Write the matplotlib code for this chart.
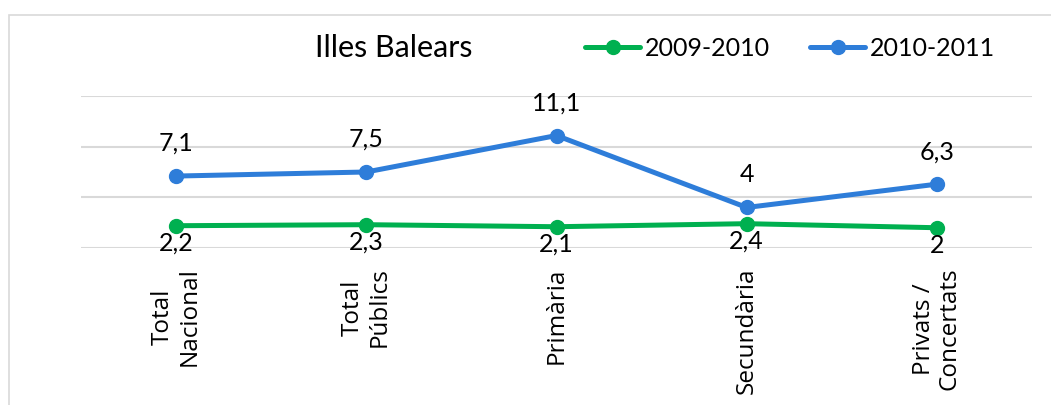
import matplotlib
matplotlib.use("Agg")
import matplotlib.pyplot as plt
from matplotlib.patches import Rectangle

categories = ["Total\nNacional", "Total\nPúblics", "Primària", "Secundària", "Privats /\nConcertats"]
series_names = ["2009-2010", "2010-2011"]
values_0910 = [2.2, 2.3, 2.1, 2.4, 2.0]
values_1011 = [7.1, 7.5, 11.1, 4.0, 6.3]
title = "Illes Balears"

GREEN = "#00B050"
BLUE = "#2E7DD9"
GRID = "#D9D9D9"

W, H = 1051, 405
fig = plt.figure(figsize=(W / 100, H / 100), dpi=100)

# outer chart frame (partially cropped)
fig.patches.append(Rectangle((9 / W, -0.1), 1.2, 1 - 15 / H + 0.1, transform=fig.transFigure,
                             fill=False, edgecolor="#D9D9D9", linewidth=1.2))

ax = fig.add_axes([81 / W, 1 - 248 / H, (1032 - 81) / W, (248 - 96) / H])
ax.set_xlim(-0.5, len(categories) - 0.5)
ax.set_ylim(0, 15)
ax.set_yticks([0, 5, 10, 15])
ax.set_yticklabels([])
ax.tick_params(axis="y", length=0)
ax.tick_params(axis="x", length=0, pad=14)
ax.grid(axis="y", color=GRID, linewidth=1.5)
ax.set_axisbelow(True)
for s in ax.spines.values():
    s.set_visible(False)

x = list(range(len(categories)))
l1, = ax.plot(x, values_0910, color=GREEN, lw=3.6, marker="o", ms=10, label=series_names[0],
              solid_capstyle="round", zorder=3)
l2, = ax.plot(x, values_1011, color=BLUE, lw=3.6, marker="o", ms=10, label=series_names[1],
              solid_capstyle="round", zorder=3)

def fmt(v):
    s = f"{v:.1f}"
    if s.endswith(".0"):
        s = s[:-2]
    return s.replace(".", ",")

lab_font = dict(family=["Lato", "DejaVu Sans"], fontsize=18, color="black")
for xi, v in zip(x, values_1011):
    ax.annotate(fmt(v), (xi, v), xytext=(0, 18), textcoords="offset points",
                ha="center", va="baseline", **lab_font)
for xi, v in zip(x, values_0910):
    ax.annotate(fmt(v), (xi, v), xytext=(0, -18), textcoords="offset points",
                ha="center", va="baseline", annotation_clip=False, **lab_font)

ax.set_xticks(x)
ax.set_xticklabels(categories, rotation=90, ha="center", va="top", multialignment="center",
                   family=["Open Sans", "DejaVu Sans"], fontsize=17.5, linespacing=1.12)

fig.text(394 / W, 1 - 48 / H, title, ha="center", va="center",
         family=["Lato", "DejaVu Sans"], fontsize=22, color="black")

leg = fig.legend(handles=[l1, l2], labels=series_names, loc="center left",
                 bbox_to_anchor=(575 / W, 1 - 48 / H), ncol=2, frameon=False,
                 prop=dict(family=["Lato", "DejaVu Sans"], size=18),
                 handlelength=2.2, handletextpad=0.2, columnspacing=1.6, borderaxespad=0)

fig.savefig("out.png", dpi=100)
